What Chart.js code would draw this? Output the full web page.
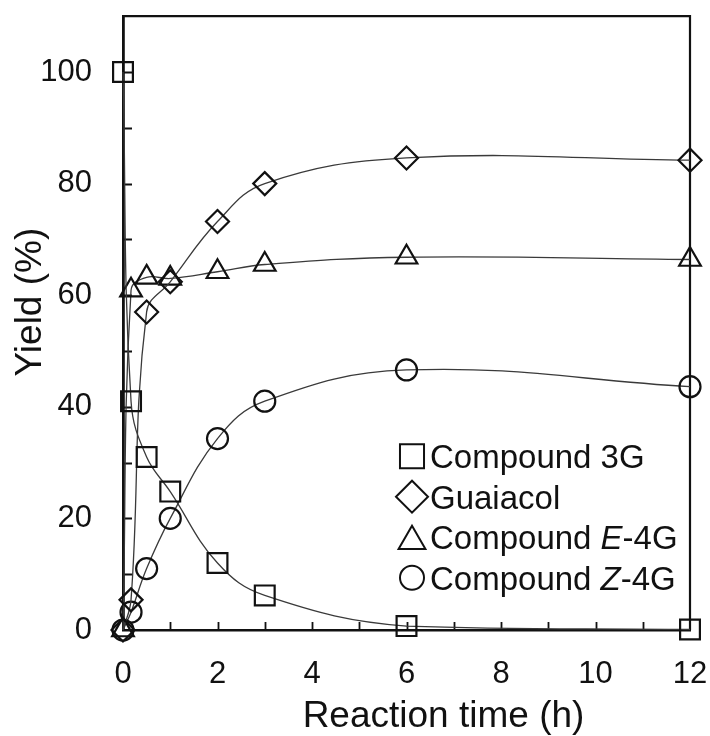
<!DOCTYPE html>
<html>
<head>
<meta charset="utf-8">
<script src="https://cdn.jsdelivr.net/npm/chart.js@4.4.1/dist/chart.umd.min.js"></script>
<style>
  html, body { margin: 0; padding: 0; background: #fff; }
  #wrap { width: 710px; height: 736px; }
</style>
</head>
<body>
<div id="wrap"><canvas id="yields"></canvas></div>
<script>
// reaction times (h)
const times = [0, 0.17, 0.5, 1, 2, 3, 6, 12];
// yields (%)
const compound3G = [100, 41, 31, 24.8, 12, 6.2, 0.7, 0.1];
const guaiacol = [0, 5.4, 57, 62.4, 73.2, 80, 84.6, 84.2];
const compoundE4G = [0, 60.9, 63.2, 63.0, 64.2, 65.5, 66.8, 66.4];
const compoundZ4G = [0, 3.2, 11, 20, 34.3, 41, 46.6, 43.6];

// axis ticks
const xTickLabels = [0, 2, 4, 6, 8, 10, 12];
const yTickLabels = [0, 20, 40, 60, 80, 100];
const xTickMarks = [1, 2, 3, 4, 5, 6, 7, 8, 9, 10, 11];
const yTickMarks = [10, 20, 30, 40, 50, 60, 70, 80, 90, 100];

const xTitle = 'Reaction time (h)';
const yTitle = 'Yield (%)';

const INK = '#111';
const LINE = '#3a3a3a';
const FONT = '"Liberation Sans", Arial, sans-serif';

function series(label, values, style, radius) {
  return {
    label: label,
    data: times.map((t, i) => ({ x: t, y: values[i] })),
    pointStyle: style,
    pointRadius: radius,
    pointHoverRadius: radius,
    pointBorderWidth: 2.2,
    pointBorderColor: INK,
    pointBackgroundColor: 'rgba(0,0,0,0)',
    borderColor: LINE,
    borderWidth: 1.3,
    tension: 0.4,
    fill: false,
    clip: false
  };
}

// frame + inward tick marks + axis titles (titles sit a bit off-centre in the original)
const frame = {
  id: 'frame',
  beforeDatasetsDraw(chart) {
    const { ctx, chartArea: a, scales: { x, y } } = chart;
    ctx.save();
    ctx.strokeStyle = INK;
    ctx.lineWidth = 2.2;
    ctx.beginPath();
    ctx.moveTo(a.left, a.top);
    ctx.lineTo(a.right, a.top);
    ctx.lineTo(a.right, a.bottom);
    ctx.stroke();
    ctx.lineWidth = 1.8;
    ctx.beginPath();
    xTickMarks.forEach(v => {
      const px = Math.round(x.getPixelForValue(v)) + 0.5;
      ctx.moveTo(px, a.bottom);
      ctx.lineTo(px, a.bottom - 8);
    });
    yTickMarks.forEach(v => {
      const py = Math.round(y.getPixelForValue(v)) + 0.5;
      ctx.moveTo(a.left, py);
      ctx.lineTo(a.left + 9, py);
    });
    ctx.stroke();

    ctx.fillStyle = INK;
    ctx.font = '37px ' + FONT;
    ctx.textAlign = 'center';
    ctx.textBaseline = 'alphabetic';
    ctx.fillText(xTitle, (a.left + a.right) / 2 + 37, a.bottom + 97);
    ctx.translate(a.left - 82, (a.top + a.bottom) / 2 - 21);
    ctx.rotate(-Math.PI / 2);
    ctx.fillText(yTitle, 0, 0);
    ctx.restore();
  }
};

// legend sitting inside the plot
const legendRows = [
  { style: 'rect', r: 17, dy: 0, parts: [['Compound 3G', false]] },
  { style: 'rectRot', r: 16, dy: 0, parts: [['Guaiacol', false]] },
  { style: 'triangle', r: 15.5, dy: 4, parts: [['Compound ', false], ['E', true], ['-4G', false]] },
  { style: 'circle', r: 12, dy: 0, parts: [['Compound ', false], ['Z', true], ['-4G', false]] }
];

const insideLegend = {
  id: 'insideLegend',
  afterDraw(chart) {
    const { ctx, chartArea: a } = chart;
    const mx = a.left + 289;
    const tx = a.left + 307;
    const y0 = a.top + 440;
    const step = 40.5;
    ctx.save();
    legendRows.forEach((row, i) => {
      const cy = y0 + i * step;
      ctx.strokeStyle = INK;
      ctx.fillStyle = 'rgba(0,0,0,0)';
      ctx.lineWidth = 2;
      Chart.helpers.drawPoint(ctx, { pointStyle: row.style, radius: row.r, borderWidth: 2, rotation: 0 }, mx, cy + row.dy);
      let x = tx;
      ctx.fillStyle = INK;
      ctx.textBaseline = 'alphabetic';
      ctx.textAlign = 'left';
      row.parts.forEach(([txt, it]) => {
        ctx.font = (it ? 'italic ' : '') + '33px ' + FONT;
        ctx.fillText(txt, x, cy + 12);
        x += ctx.measureText(txt).width;
      });
    });
    ctx.restore();
  }
};

new Chart(document.getElementById('yields'), {
  type: 'line',
  data: {
    datasets: [
      series('Compound 3G', compound3G, 'rect', 14),
      series('Guaiacol', guaiacol, 'rectRot', 11.5),
      series('Compound E-4G', compoundE4G, 'triangle', 12.5),
      series('Compound Z-4G', compoundZ4G, 'circle', 10.5)
    ]
  },
  options: {
    responsive: true,
    maintainAspectRatio: false,
    animation: false,
    layout: { padding: { top: 16, right: 20, left: 0, bottom: 0 } },
    plugins: {
      legend: { display: false },
      tooltip: { enabled: false }
    },
    scales: {
      x: {
        type: 'linear',
        min: 0,
        max: 12,
        afterBuildTicks: s => { s.ticks = xTickLabels.map(v => ({ value: v })); },
        afterFit: s => { s.height = 106; s.paddingLeft = 0; s.paddingRight = 0; },
        grid: { display: false, drawTicks: false },
        border: { display: true, color: INK, width: 2.5 },
        ticks: { color: INK, padding: 26, maxRotation: 0, autoSkip: false, font: { family: FONT, size: 31 } },
        title: { display: false, text: xTitle }
      },
      y: {
        min: 0,
        max: 110,
        afterBuildTicks: s => { s.ticks = yTickLabels.map(v => ({ value: v })); },
        afterFit: s => { s.width = 123; s.paddingTop = 0; s.paddingBottom = 0; },
        grid: { display: false, drawTicks: false },
        border: { display: true, color: INK, width: 2.8 },
        ticks: { color: INK, padding: 31, autoSkip: false, font: { family: FONT, size: 31 } },
        title: { display: false, text: yTitle }
      }
    }
  },
  plugins: [frame, insideLegend]
});
</script>
</body>
</html>
